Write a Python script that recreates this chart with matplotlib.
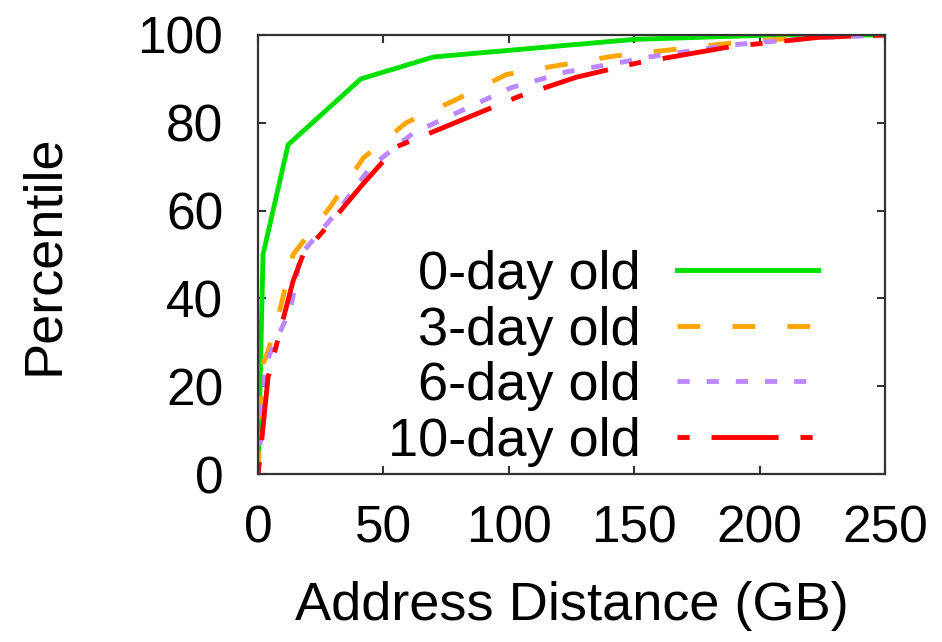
import matplotlib
matplotlib.use("Agg")
import matplotlib.pyplot as plt

plt.rcParams['font.family'] = ['Liberation Sans', 'DejaVu Sans']

# address distance (GB) vs percentile
x0 = [0, 1, 2, 12, 41, 70, 150, 205, 250]
y0 = [0, 25, 50, 75, 90, 95, 99, 100, 100]

x3 = [0, 2, 4, 9, 14, 29, 42, 59, 78, 99, 121, 142, 164, 186, 206, 250]
y3 = [0, 25, 28, 38, 50, 61, 72, 80, 85, 91, 93.2, 95.2, 96.6, 98, 99, 100]

x6 = [0, 1, 3, 6, 13, 17, 32, 45, 62, 82, 101, 123, 145, 156, 188, 221, 250]
y6 = [0, 8, 25, 29, 37.5, 50, 60, 70, 77.7, 83, 88, 91.6, 93.8, 95, 97.7, 99.3, 100]

x10 = [0, 1, 4, 14, 18, 33, 41, 55, 70, 104, 127, 151, 188, 224, 250]
y10 = [0, 5, 22, 44, 50, 60, 65.5, 74.5, 78, 86, 90.4, 93.6, 97.3, 99.5, 100]

labels = ['0-day old', '3-day old', '6-day old', '10-day old']

fig = plt.figure(figsize=(9.42, 6.42), dpi=100)
ax = fig.add_axes([258 / 942, 1 - 474 / 642, 627 / 942, 439 / 642])

lw = 3.5
ax.plot(x0, y0, color='#00e000', lw=lw, label=labels[0])
ax.plot(x3, y3, color='#ffa500', lw=lw, dashes=(4.7, 6.6), dash_capstyle='butt', label=labels[1])
ax.plot(x6, y6, color='#bb88ff', lw=lw, dashes=(2.5, 3.5), dash_capstyle='butt', label=labels[2])
ax.plot(x10, y10, color='#ff0000', lw=lw, dashes=(2.5, 4.5, 13.8, 4.5), dash_capstyle='butt', label=labels[3])

ax.set_xlim(0, 250)
ax.set_ylim(0, 100)
ax.set_xticks([0, 50, 100, 150, 200, 250])
ax.set_yticks([0, 20, 40, 60, 80, 100])

ax.tick_params(direction='in', length=6, width=1.5, color='#333333',
               top=True, right=True, labelsize=37)
ax.tick_params(axis='y', pad=25)
ax.tick_params(axis='x', pad=22)
for s in ax.spines.values():
    s.set_linewidth(1.6)
    s.set_color('#333333')

ax.set_xlabel('Address Distance (GB)', fontsize=39, labelpad=20)
ax.set_ylabel('Percentile', fontsize=39, labelpad=49)

ax.legend(loc='lower right', bbox_to_anchor=((818 - 258) / 627, 0.017),
          frameon=False, fontsize=39, markerfirst=False, handlelength=2.6,
          handletextpad=0.68, labelspacing=0.1, borderaxespad=0, borderpad=0)

fig.savefig('out.png', dpi=100)
